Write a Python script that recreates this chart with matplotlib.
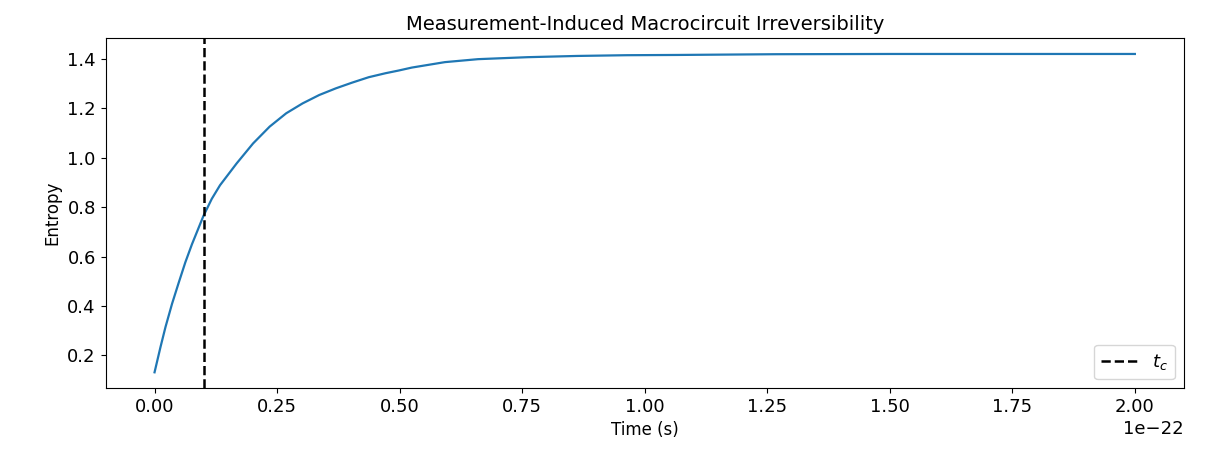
import numpy as np
import matplotlib
matplotlib.use("Agg")
import matplotlib.pyplot as plt

# time in units of 1e-22 s, entropy
time_units = [0.000, 0.0121, 0.0223, 0.0358, 0.0492, 0.0628, 0.0763, 0.0998,
              0.1168, 0.1336, 0.1674, 0.201, 0.2348, 0.2686, 0.302, 0.336,
              0.370, 0.403, 0.437, 0.471, 0.498, 0.525, 0.5925, 0.660,
              0.761, 0.862, 0.9636, 1.065, 1.267, 1.500, 1.750, 2.000]
entropy = [0.132, 0.234, 0.315, 0.410, 0.494, 0.577, 0.650, 0.765,
           0.834, 0.889, 0.977, 1.058, 1.126, 1.180, 1.220, 1.254,
           1.281, 1.304, 1.326, 1.342, 1.353, 1.365, 1.387, 1.399,
           1.407, 1.412, 1.415, 1.416, 1.419, 1.420, 1.420, 1.420]
t_c = 0.1e-22
scale = 1e-22

t = np.array(time_units) * scale

fig, ax = plt.subplots(figsize=(12.13, 4.53), dpi=100)
fig.subplots_adjust(left=0.087, right=0.976, top=0.916, bottom=0.143)

ax.plot(t, entropy, color="#1f77b4", lw=1.6)
ax.axvline(t_c, color="black", linestyle="--", lw=1.8, label=r"$t_c$")

ax.set_title("Measurement-Induced Macrocircuit Irreversibility", fontsize=14)
ax.set_xlabel("Time (s)", fontsize=12)
ax.set_ylabel("Entropy", fontsize=12)
ax.tick_params(labelsize=13)
ax.xaxis.get_offset_text().set_fontsize(13)
ax.legend(loc="lower right", fontsize=13)

fig.savefig("out.png", dpi=100)
